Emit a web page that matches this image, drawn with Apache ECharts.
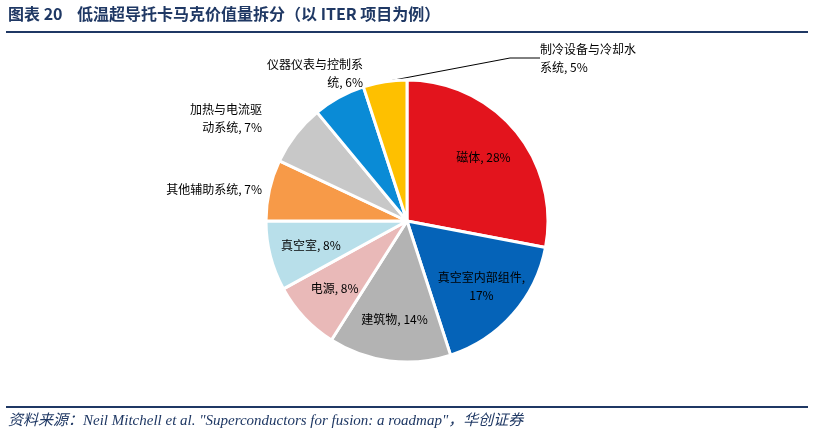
<!DOCTYPE html>
<html>
<head>
<meta charset="utf-8">
<script src="https://cdn.jsdelivr.net/npm/echarts@6/dist/echarts.min.js"></script>
<style>html,body{margin:0;padding:0;background:#fff}#c{width:814px;height:443px}</style>
</head>
<body>
<div id="c"></div>
<script>
// 数据
var names = ['磁体', '真空室内部组件', '建筑物', '电源', '真空室', '其他辅助系统', '加热与电流驱动系统', '仪器仪表与控制系统', '制冷设备与冷却水系统'];
var labels = ['磁体, 28%', '真空室内部组件,\n17%', '建筑物, 14%', '电源, 8%', '真空室, 8%', '其他辅助系统, 7%', '加热与电流驱\n动系统, 7%', '仪器仪表与控制系\n统, 6%', '制冷设备与冷却水\n系统, 5%'];
var values = [28, 17, 14, 8, 8, 7, 7, 6, 5];
var colors = ['#e3141d', '#0563b8', '#b3b3b3', '#e9b9b8', '#b8dfea', '#f79a48', '#c8c8c8', '#0a8bd6', '#fec000'];

var font = '"Noto Sans CJK SC", sans-serif';
var cx = 407, cy = 221;
// 外部标签位置
var outPos = {5: [262, 189, 'right'], 6: [262, 118, 'right'], 7: [363, 73, 'right'], 8: [540, 58, 'left']};

var data = values.map(function (v, i) {
    var inside = i < 5;
    return {
        name: names[i], value: v,
        itemStyle: {color: colors[i]},
        label: {show: true, formatter: labels[i], position: inside ? 'inner' : 'outside', align: 'center'},
        labelLine: {show: i === 8, lineStyle: {color: '#000', width: 1}}
    };
});

var chart = echarts.init(document.getElementById('c'));
chart.setOption({
    animation: false,
    graphic: [
        {type: 'text', left: 8, top: 6, style: {text: '图表 20    低温超导托卡马克价值量拆分（以 ITER 项目为例）', font: 'bold 16px ' + font, fill: '#1f3864'}},
        {type: 'rect', shape: {x: 6, y: 31, width: 802, height: 2}, style: {fill: '#1f3864'}},
        {type: 'rect', shape: {x: 6, y: 406, width: 802, height: 2}, style: {fill: '#1f3864'}},
        {type: 'text', left: 8, top: 414, style: {text: '资料来源：Neil Mitchell et al. "Superconductors for fusion: a roadmap"，华创证券', font: 'italic 15px "Liberation Serif", ' + font, fill: '#1f3864'}}
    ],
    series: [{
        type: 'pie',
        center: [cx, cy],
        radius: [0, 141],
        startAngle: 90,
        clockwise: true,
        itemStyle: {borderColor: '#fff', borderWidth: 3},
        label: {color: '#000', fontSize: 12, fontFamily: font, lineHeight: 18},
        labelLayout: function (p) {
            var o = outPos[p.dataIndex];
            if (!o) {
                // 内部标签向外推
                var r = p.labelRect;
                var mx = r.x + r.width / 2, my = r.y + r.height / 2;
                var k = 1.35;
                return {x: cx + (mx - cx) * k, y: cy + (my - cy) * k, align: 'center', verticalAlign: 'middle'};
            }
            return {x: o[0], y: o[1], align: o[2], verticalAlign: 'middle'};
        },
        data: data
    }]
});
</script>
</body>
</html>
